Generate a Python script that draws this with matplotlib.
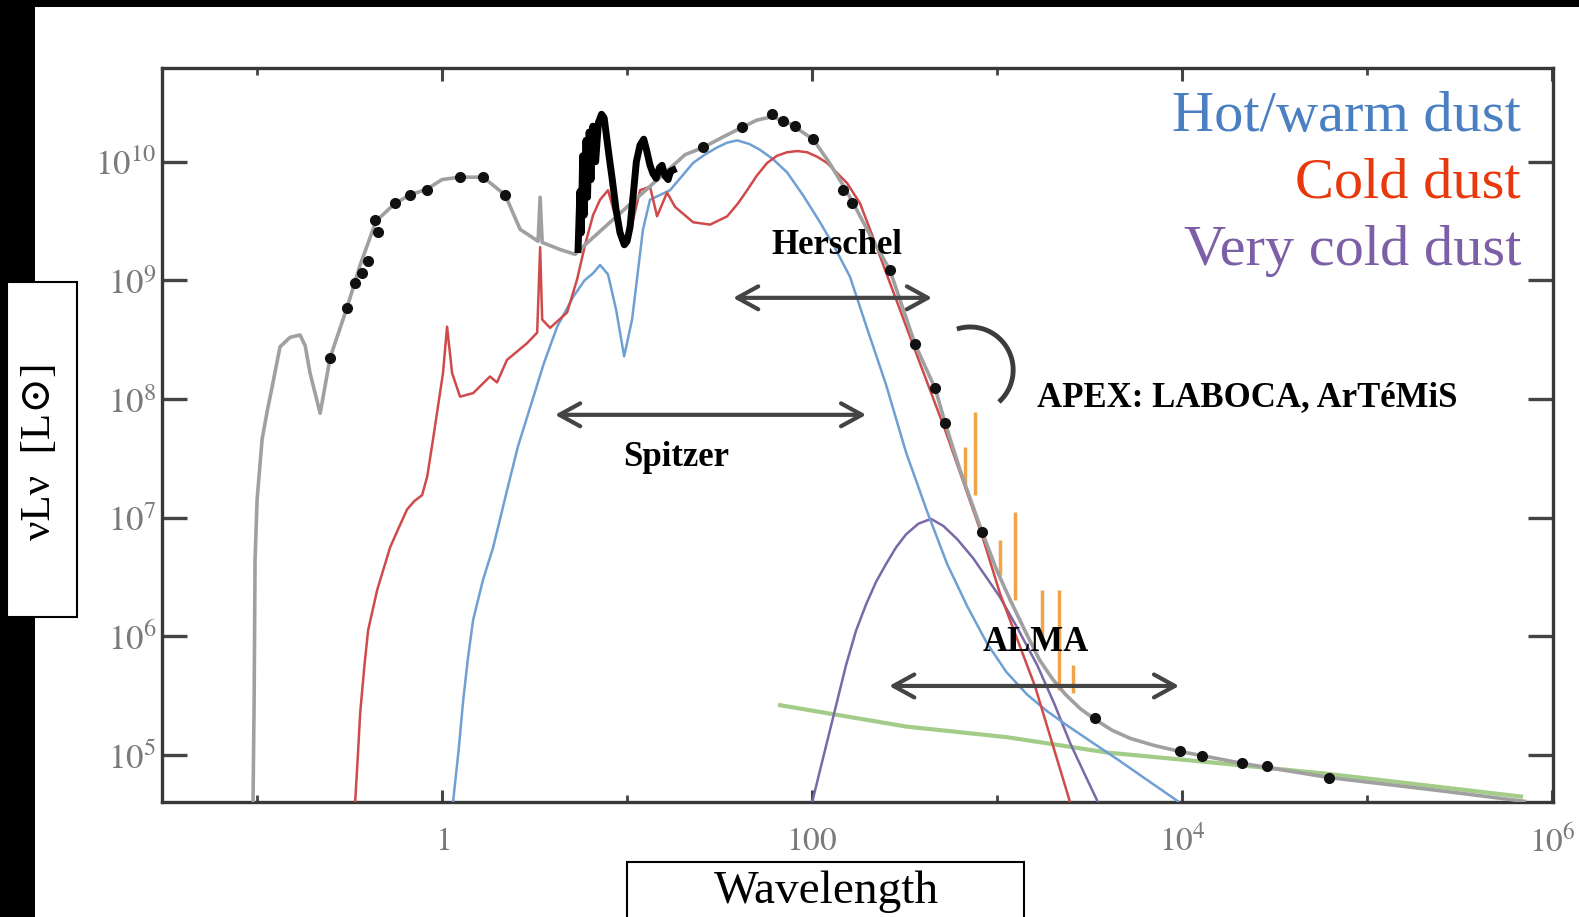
import numpy as np
import matplotlib
matplotlib.use('Agg')
import matplotlib.pyplot as plt
from matplotlib.patches import Rectangle

plt.rcParams['mathtext.fontset'] = 'stix'
SERIF = ['Liberation Serif', 'DejaVu Serif', 'DejaVu Sans']

# ---------------- data (log10 wavelength [um], log10 nuLnu [Lsun]) ----------------
total_loglam = [-1.022, -1.016, -1.011, -1.000, -0.973, -0.945, -0.919, -0.876, -0.822, -0.768,
                -0.740, -0.714, -0.659, -0.605, -0.514, -0.443, -0.357, -0.254, -0.173, -0.081,
                0.000, 0.097, 0.222, 0.341, 0.422, 0.519, 0.530, 0.541, 0.638, 0.719,
                0.773, 1.314, 1.411, 1.520, 1.622, 1.700, 1.784, 1.881, 2.005, 2.090,
                2.168, 2.216, 2.314, 2.420, 2.557, 2.665, 2.719, 2.800, 2.919, 3.000,
                3.070, 3.150, 3.230, 3.300, 3.370, 3.450, 3.530, 3.620, 3.720, 3.850,
                3.989, 4.324, 4.795, 5.390, 5.850]
total_logL = [4.60, 5.46, 6.64, 7.15, 7.66, 7.90, 8.10, 8.44, 8.52, 8.54,
              8.45, 8.22, 7.88, 8.35, 8.77, 9.13, 9.50, 9.65, 9.72, 9.77,
              9.85, 9.87, 9.87, 9.72, 9.43, 9.33, 9.70, 9.32, 9.26, 9.22,
              9.30, 10.06, 10.12, 10.21, 10.29, 10.35, 10.38, 10.32, 10.19, 10.00,
              9.80, 9.67, 9.38, 9.09, 8.46, 8.09, 7.80, 7.40, 6.88, 6.55,
              6.31, 6.05, 5.80, 5.64, 5.51, 5.39, 5.30, 5.21, 5.14, 5.08,
              5.03, 4.93, 4.81, 4.70, 4.61]

pah_loglam = [0.735, 0.745, 0.752, 0.760, 0.768, 0.778, 0.786, 0.795, 0.805, 0.815,
              0.830, 0.845, 0.862, 0.876, 0.890, 0.905, 0.920, 0.940, 0.962, 0.985,
              1.000, 1.016, 1.035, 1.050, 1.070, 1.090, 1.105, 1.124, 1.140, 1.157,
              1.175, 1.189, 1.205, 1.222, 1.235, 1.249]
pah_logL = [9.26, 9.75, 9.40, 10.05, 9.55, 10.18, 9.70, 10.25, 9.85, 10.30,
            10.00, 10.33, 10.40, 10.37, 10.20, 10.02, 9.85, 9.60, 9.40, 9.30,
            9.33, 9.45, 9.75, 10.00, 10.14, 10.19, 10.10, 9.97, 9.90, 9.86,
            9.95, 9.97, 9.88, 9.85, 9.92, 9.93]

phot_loglam = [-0.605, -0.514, -0.470, -0.432, -0.400, -0.362, -0.346, -0.254, -0.173,
               -0.081, 0.097, 0.222, 0.341, 1.411, 1.622, 1.784, 1.843, 1.908, 2.005,
               2.168, 2.216, 2.420, 2.557, 2.665, 2.719, 2.919, 3.530, 3.989, 4.108,
               4.324, 4.459, 4.795]
phot_logL = [8.35, 8.77, 8.98, 9.06, 9.16, 9.51, 9.41, 9.65, 9.72,
             9.76, 9.87, 9.87, 9.72, 10.12, 10.29, 10.40, 10.34, 10.30, 10.19,
             9.76, 9.65, 9.09, 8.46, 8.09, 7.80, 6.88, 5.31, 5.03, 4.99,
             4.93, 4.91, 4.81]

warm_loglam = [0.059, 0.090, 0.114, 0.140, 0.168, 0.220, 0.276, 0.351, 0.410, 0.476,
               0.550, 0.622, 0.708, 0.770, 0.816, 0.854, 0.897, 0.941, 0.984, 1.027,
               1.086, 1.124, 1.232, 1.357, 1.420, 1.486, 1.540, 1.595, 1.660, 1.719,
               1.790, 1.865, 1.950, 2.043, 2.125, 2.205, 2.292, 2.400, 2.508, 2.620,
               2.730, 2.840, 2.946, 3.050, 3.162, 3.270, 3.378, 3.520, 3.654, 3.820,
               3.978]
warm_logL = [4.60, 5.05, 5.46, 5.82, 6.14, 6.47, 6.75, 7.23, 7.60, 7.93,
             8.30, 8.61, 8.86, 9.00, 9.06, 9.13, 9.05, 8.75, 8.36, 8.67,
             9.43, 9.68, 9.76, 9.99, 10.06, 10.12, 10.16, 10.18, 10.15, 10.10,
             10.02, 9.91, 9.72, 9.49, 9.27, 9.03, 8.62, 8.12, 7.55, 7.06,
             6.61, 6.25, 5.94, 5.70, 5.51, 5.37, 5.25, 5.10, 4.96, 4.78,
             4.61]

cold_loglam = [-0.470, -0.455, -0.443, -0.420, -0.400, -0.351, -0.281, -0.230, -0.189, -0.150,
               -0.108, -0.080, -0.049, 0.005, 0.027, 0.054, 0.097, 0.168, 0.259, 0.297,
               0.351, 0.459, 0.514, 0.530, 0.541, 0.584, 0.676, 0.730, 0.773, 0.816,
               0.854, 0.897, 0.935, 0.989, 1.027, 1.070, 1.124, 1.162, 1.216, 1.259,
               1.357, 1.449, 1.541, 1.600, 1.649, 1.700, 1.757, 1.810, 1.865, 1.920,
               1.973, 2.030, 2.081, 2.189, 2.259, 2.330, 2.411, 2.557, 2.719, 2.919,
               3.016, 3.205, 3.395]
cold_logL = [4.60, 5.00, 5.35, 5.75, 6.05, 6.39, 6.75, 6.93, 7.07, 7.14,
             7.19, 7.35, 7.66, 8.22, 8.61, 8.22, 8.02, 8.05, 8.19, 8.14,
             8.33, 8.47, 8.56, 9.28, 8.67, 8.60, 8.73, 9.01, 9.30, 9.55,
             9.68, 9.76, 9.55, 9.34, 9.47, 9.76, 9.79, 9.54, 9.74, 9.62,
             9.49, 9.47, 9.54, 9.65, 9.76, 9.88, 9.99, 10.05, 10.08, 10.09,
             10.08, 10.04, 9.99, 9.82, 9.65, 9.36, 9.02, 8.41, 7.74, 6.85,
             6.36, 5.58, 4.60]

vcold_loglam = [2.000, 2.076, 2.130, 2.184, 2.238, 2.292, 2.346, 2.400, 2.454, 2.508,
                2.575, 2.643, 2.710, 2.784, 2.870, 2.950, 3.016, 3.110, 3.216, 3.310,
                3.395, 3.470, 3.546]
vcold_logL = [4.60, 5.08, 5.42, 5.76, 6.05, 6.27, 6.46, 6.61, 6.75, 6.86,
              6.95, 6.99, 6.93, 6.82, 6.66, 6.48, 6.33, 6.07, 5.76, 5.43,
              5.10, 4.85, 4.60]

radio_loglam = [1.827, 2.508, 3.054, 3.600, 4.141, 4.795, 5.832]
radio_logL = [5.42, 5.24, 5.15, 5.02, 4.94, 4.84, 4.65]

# CO-like spikes: log wavelength, top, bottom
line_loglam = [2.827, 2.881, 3.016, 3.097, 3.243, 3.335, 3.411]
line_top = [7.60, 7.89, 6.81, 7.05, 6.39, 6.39, 5.76]
line_bot = [7.28, 7.19, 6.52, 6.31, 5.97, 5.55, 5.52]

# instrument ranges (um) and arrow level (log L)
herschel_range = (37.4, 445.0); herschel_level = 8.853
spitzer_range = (4.08, 196.0); spitzer_level = 7.867
alma_range = (261.0, 9640.0); alma_level = 5.582

xticks_major = [1, 100, 1e4, 1e6]
xtick_labels = ['$1$', '$100$', '$10^4$', '$10^6$']
xticks_minor = [0.1, 10, 1000, 1e5]
yticks = [1e5, 1e6, 1e7, 1e8, 1e9, 1e10]
ytick_labels = ['$10^5$', '$10^6$', '$10^7$', '$10^8$', '$10^9$', '$10^{10}$']


def P(a):
    return 10 ** np.asarray(a, dtype=float)


W, H = 1579, 917
fig = plt.figure(figsize=(W / 100, H / 100), dpi=100)
fig.patch.set_facecolor('white')

ax = fig.add_axes([162 / W, 1 - 802 / H, (1553 - 162) / W, (802 - 68) / H])
ax.set_xscale('log')
ax.set_yscale('log')
ax.set_xlim(10 ** -1.514, 10 ** 6.005)
ax.set_ylim(10 ** 4.604, 10 ** 10.79)

ax.plot(P(radio_loglam), P(radio_logL), color='#8cc06c', lw=3, alpha=0.8, zorder=2)
ax.plot(P(vcold_loglam), P(vcold_logL), color='#7b68a6', lw=1.8, zorder=3)
ax.plot(P(warm_loglam), P(warm_logL), color='#6f9fd3', lw=1.8, zorder=3)
ax.plot(P(cold_loglam), P(cold_logL), color='#cf4a4a', lw=1.8, zorder=3)
ax.vlines(P(line_loglam), P(line_bot), P(line_top), color='#f0a447', lw=2.5, zorder=3)
ax.plot(P(total_loglam), P(total_logL), color='#a0a0a0', lw=2.6, zorder=4)
ax.plot(P(pah_loglam), P(pah_logL), color='black', lw=5, zorder=5,
        solid_joinstyle='round')
ax.plot(P(phot_loglam), P(phot_logL), 'o', color='#111111', ms=7, zorder=6)

# axes styling
for s in ax.spines.values():
    s.set_color('#383838')
    s.set_linewidth(2.4)
ax.set_xticks(xticks_major)
ax.set_xticklabels(xtick_labels)
ax.set_xticks(xticks_minor, minor=True)
ax.set_xticklabels([], minor=True)
ax.set_yticks(yticks)
ax.set_yticklabels(ytick_labels)
ax.yaxis.set_minor_locator(matplotlib.ticker.NullLocator())
ax.tick_params(axis='x', which='major', direction='in', length=9, width=2.2,
               color='#444444', top=True, bottom=True, pad=16, labelsize=24,
               labelcolor='#7a7a7a')
ax.tick_params(axis='x', which='minor', direction='in', length=5, width=2,
               color='#444444', top=True, bottom=True)
ax.tick_params(axis='y', which='major', direction='in', length=18, width=2.4,
               color='#444444', left=True, right=True, pad=4, labelsize=25,
               labelcolor='#7a7a7a')

# instrument arrows
arrow_kw = dict(arrowstyle='<->,head_length=1.0,head_width=0.55', lw=3,
                color='#444444', shrinkA=0, shrinkB=0, mutation_scale=15)
for rng, lev in [(herschel_range, herschel_level), (spitzer_range, spitzer_level),
                 (alma_range, alma_level)]:
    ax.annotate('', xy=(rng[1], 10 ** lev), xytext=(rng[0], 10 ** lev),
                arrowprops=arrow_kw, zorder=7)

lab_kw = dict(transform=ax.transAxes, fontsize=25, fontweight='bold',
              family=SERIF, color='black', va='baseline', zorder=8)
ax.text(0.4853, 0.7466, 'Herschel', ha='center', **lab_kw)
ax.text(0.3695, 0.4578, 'Spitzer', ha='center', **lab_kw)
ax.text(0.6283, 0.2057, 'ALMA', ha='center', **lab_kw)
ax.text(0.629, 0.5395, 'APEX: LABOCA, ArTéMiS', ha='left', **lab_kw)

# APEX bracket arc
t = np.radians(np.linspace(-48, 108, 80))
ax.plot(0.581 + 0.0309 * np.cos(t), 0.5886 + 0.0586 * np.sin(t),
        transform=ax.transAxes, color='#3c3c3c', lw=3.5, solid_capstyle='butt',
        zorder=8)

leg_kw = dict(transform=ax.transAxes, fontsize=42, family=SERIF, ha='right',
              va='baseline', zorder=8)
ax.text(0.977, 0.914, 'Hot/warm dust', color='#4a7fc1', **leg_kw)
ax.text(0.977, 0.823, 'Cold dust', color='#e8390e', **leg_kw)
ax.text(0.977, 0.7316, 'Very cold dust', color='#7c5fa6', **leg_kw)

# black frame strips
fig.patches.append(Rectangle((0, 0), 35 / W, 1, transform=fig.transFigure,
                             facecolor='black', edgecolor='none', zorder=0))
fig.patches.append(Rectangle((0, 1 - 7 / H), 1, 7 / H, transform=fig.transFigure,
                             facecolor='black', edgecolor='none', zorder=0))

# axis label boxes
fig.patches.append(Rectangle((7 / W, 1 - 617 / H), 70 / W, 335 / H,
                             transform=fig.transFigure, facecolor='white',
                             edgecolor='black', lw=1.5, zorder=1))
fig.text(40 / W, 1 - 451 / H, 'νLν  [L⊙]', rotation=90, ha='center', va='center',
         fontsize=31, family=SERIF, color='black')

fig.patches.append(Rectangle((627 / W, -0.02), 397 / W, 0.02 + 55 / H,
                             transform=fig.transFigure, facecolor='white',
                             edgecolor='black', lw=1.5, zorder=1))
fig.text(826 / W, 1 - 903 / H, 'Wavelength', ha='center', va='baseline',
         fontsize=34, family=SERIF, color='black')

fig.savefig('out.png', dpi=100)
